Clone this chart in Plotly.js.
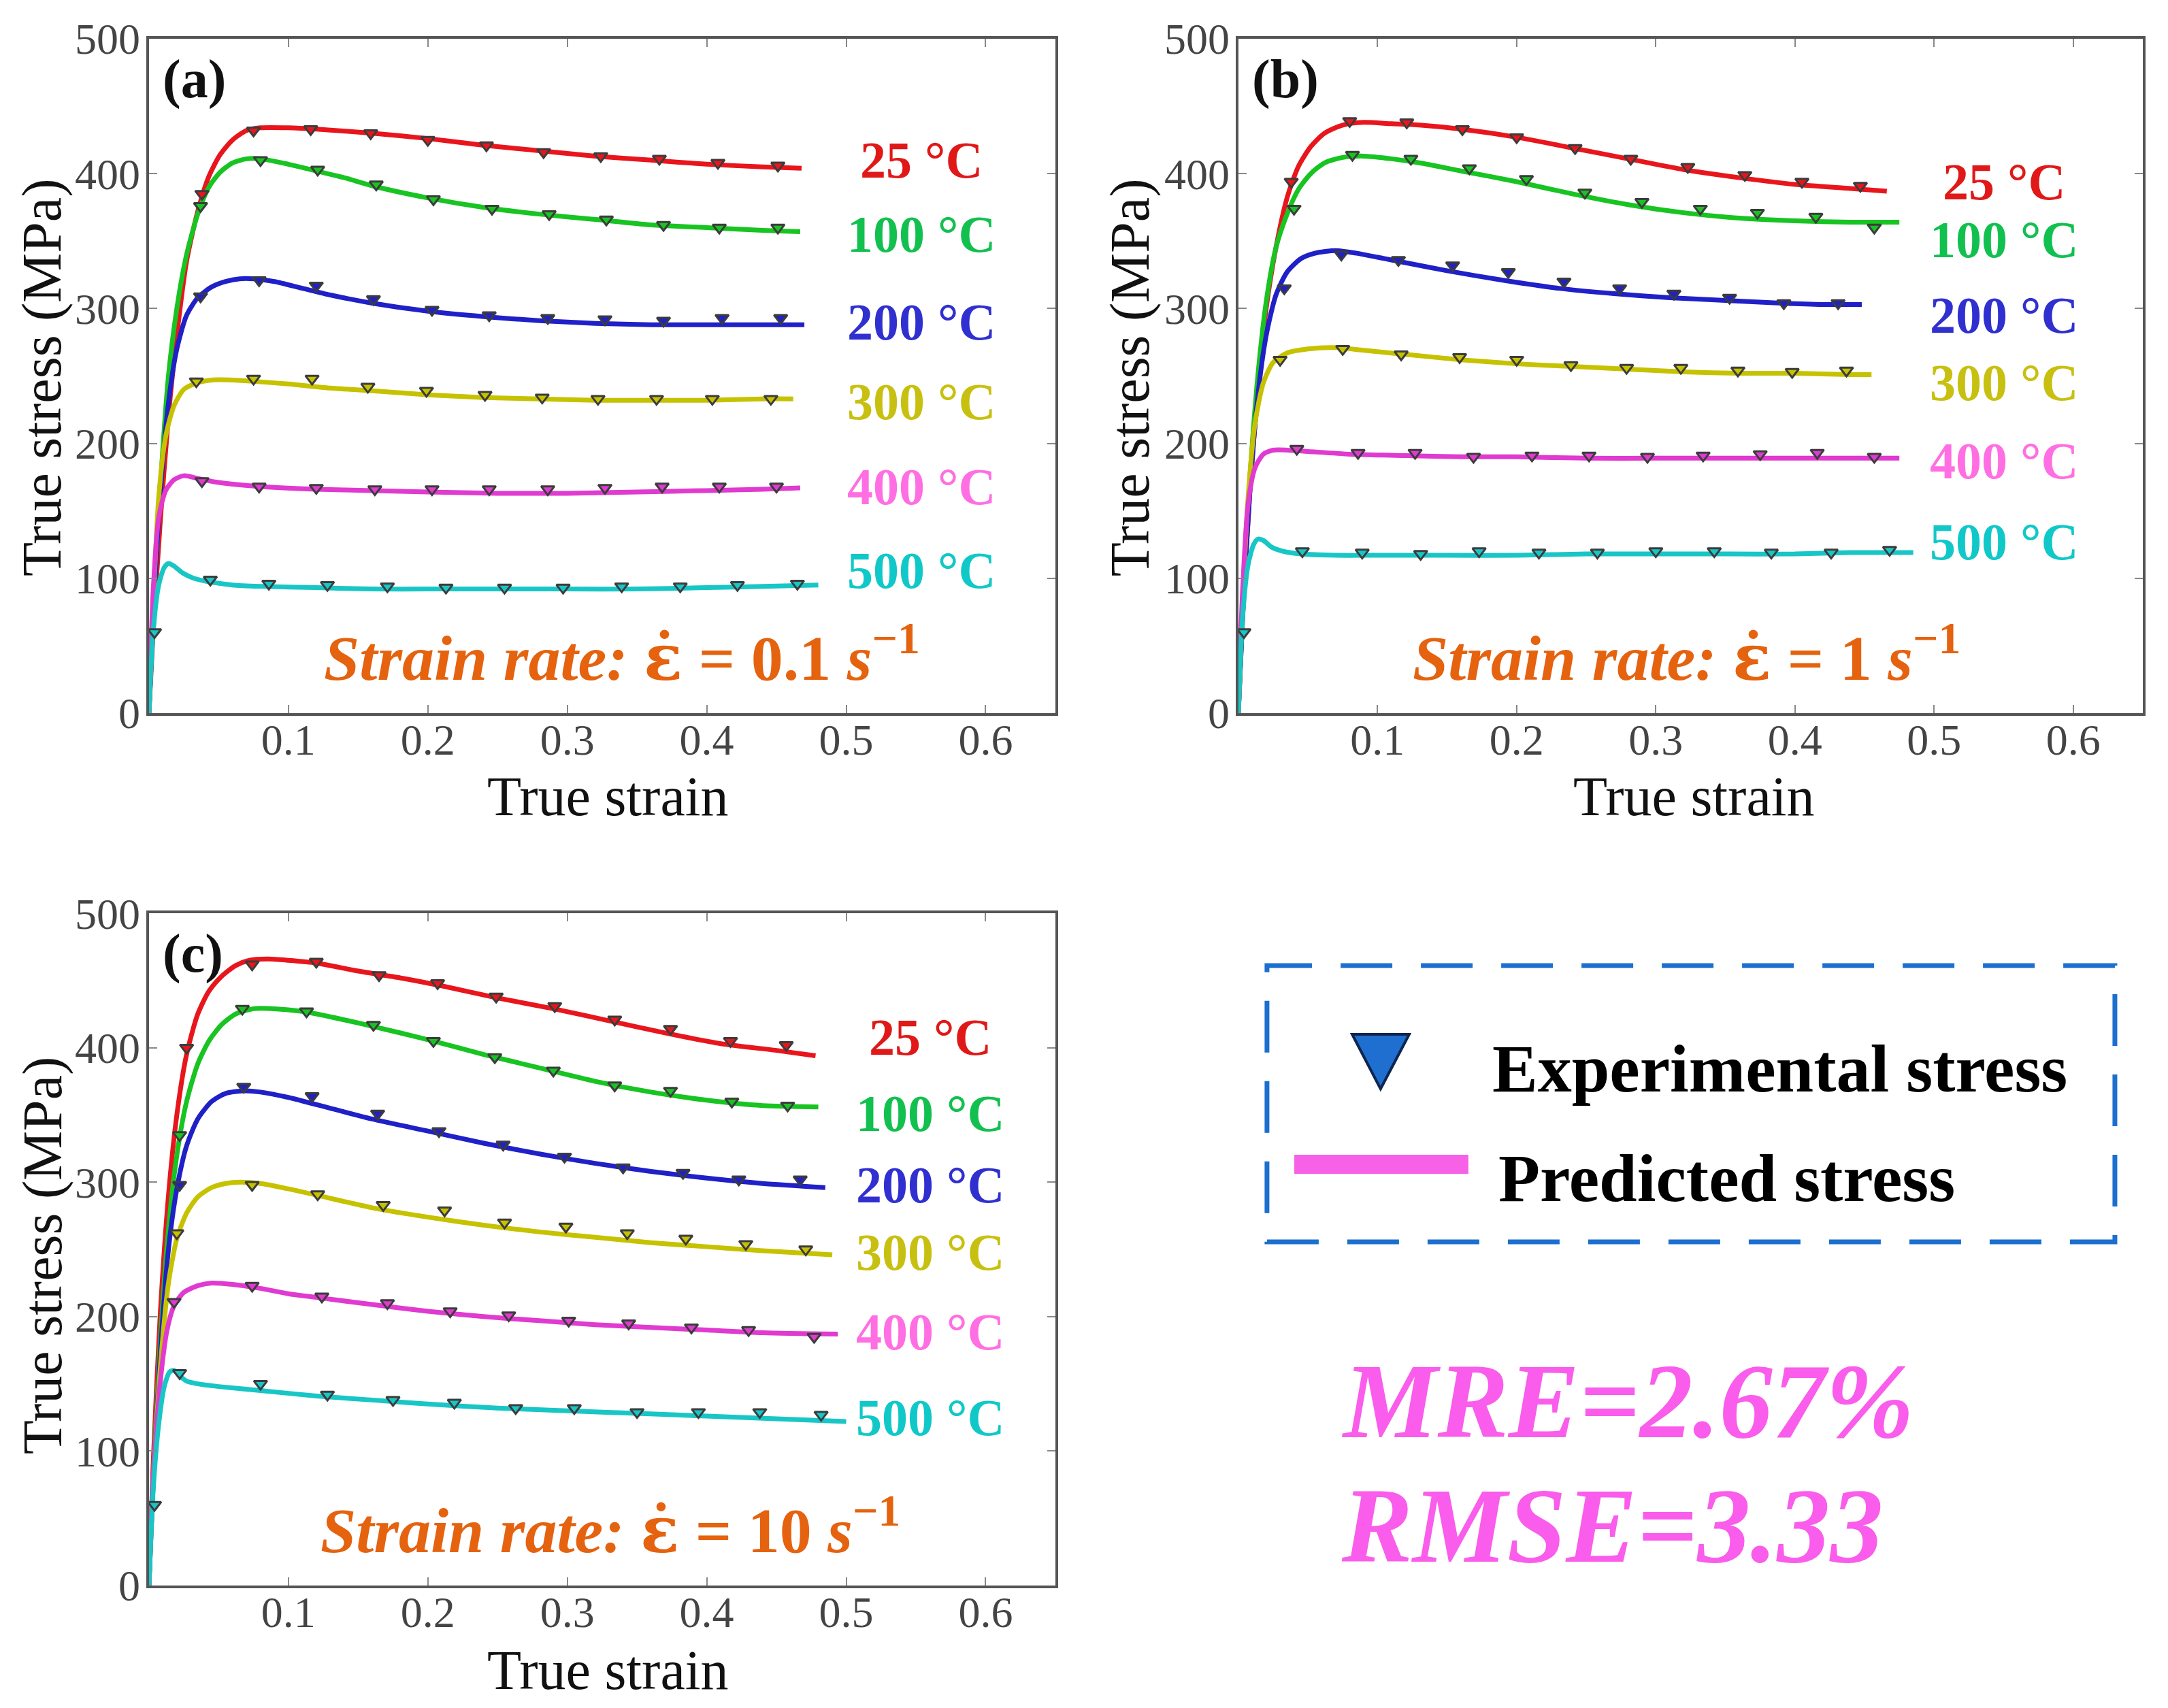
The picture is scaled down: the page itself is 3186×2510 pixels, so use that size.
<!DOCTYPE html>
<html>
<head>
<meta charset="utf-8">
<script src="https://cdn.plot.ly/plotly-3.0.1.min.js"></script>
<style>html,body{margin:0;padding:0;background:#fff;}#chart{width:3186px;height:2510px;}</style>
</head>
<body>
<div id="chart"></div>
<script>
// ---------- DATA ----------
const tempLabels = ['25 °C', '100 °C', '200 °C', '300 °C', '400 °C', '500 °C'];
const rateLabels = ['0.1', '1', '10'];
const panelLabels = ['(a)', '(b)', '(c)'];
const xTickVals = [0.1, 0.2, 0.3, 0.4, 0.5, 0.6];
const xTickText = ['0.1', '0.2', '0.3', '0.4', '0.5', '0.6'];
const yTickVals = [0, 100, 200, 300, 400, 500];
const yTickText = ['0', '100', '200', '300', '400', '500'];
const statTexts = ['MRE=2.67%', 'RMSE=3.33'];
const legendTexts = ['Experimental stress', 'Predicted stress'];

// Panel (a): strain rate 0.1 s^-1 — predicted curves
const aPredX25 = [0, 0.003, 0.008, 0.014, 0.02, 0.027, 0.035, 0.043, 0.051, 0.06, 0.07, 0.08, 0.1, 0.12, 0.16, 0.2, 0.24, 0.28, 0.32, 0.36, 0.4, 0.44, 0.468];
const aPredY25 = [0, 60, 140, 220, 280, 335, 372, 398, 414, 425, 432, 434, 434, 433, 430, 426, 421, 417, 413, 410, 407, 405, 404];
const aPredX100 = [0, 0.003, 0.008, 0.014, 0.02, 0.027, 0.035, 0.043, 0.051, 0.06, 0.07, 0.08, 0.1, 0.12, 0.14, 0.16, 0.2, 0.24, 0.28, 0.32, 0.36, 0.4, 0.44, 0.467];
const aPredY100 = [0, 70, 165, 250, 300, 340, 370, 390, 401, 408, 411, 411, 407, 402, 397, 391, 382, 375, 370, 366, 362, 360, 358, 357];
const aPredX200 = [0, 0.003, 0.008, 0.014, 0.02, 0.027, 0.035, 0.045, 0.055, 0.065, 0.075, 0.09, 0.11, 0.13, 0.16, 0.2, 0.24, 0.28, 0.32, 0.36, 0.4, 0.44, 0.47];
const aPredY200 = [0, 70, 160, 230, 270, 295, 308, 316, 320, 322, 322, 320, 315, 310, 304, 298, 294, 291, 289, 288, 288, 288, 288];
const aPredX300 = [0, 0.003, 0.007, 0.012, 0.018, 0.025, 0.035, 0.045, 0.06, 0.075, 0.1, 0.13, 0.16, 0.2, 0.24, 0.28, 0.32, 0.36, 0.4, 0.44, 0.462];
const aPredY300 = [0, 80, 160, 205, 228, 240, 245, 247, 247, 246, 244, 241, 239, 236, 234, 233, 232, 232, 232, 233, 233];
const aPredX400 = [0, 0.003, 0.007, 0.012, 0.018, 0.025, 0.035, 0.05, 0.08, 0.12, 0.16, 0.2, 0.25, 0.3, 0.35, 0.4, 0.44, 0.467];
const aPredY400 = [0, 90, 145, 165, 173, 176, 174, 171, 168, 166, 165, 164, 163, 163, 164, 165, 166, 167];
const aPredX500 = [0, 0.003, 0.007, 0.011, 0.014, 0.018, 0.024, 0.032, 0.045, 0.06, 0.08, 0.12, 0.16, 0.2, 0.25, 0.3, 0.35, 0.4, 0.44, 0.48];
const aPredY500 = [0, 60, 95, 108, 111, 109, 104, 100, 97, 95, 94, 93, 92, 92, 92, 92, 92, 93, 94, 95];
// Panel (a) — experimental points
const aExpX25 = [0.038, 0.075, 0.116, 0.159, 0.2, 0.242, 0.283, 0.324, 0.366, 0.408, 0.451];
const aExpY25 = [385, 432, 433, 430, 425, 421, 416, 413, 411, 408, 406];
const aExpX100 = [0.037, 0.08, 0.121, 0.163, 0.204, 0.246, 0.287, 0.328, 0.369, 0.409, 0.451];
const aExpY100 = [376, 410, 403, 392, 381, 374, 370, 366, 362, 360, 360];
const aExpX200 = [0.037, 0.079, 0.12, 0.161, 0.203, 0.244, 0.286, 0.327, 0.369, 0.411, 0.453];
const aExpY200 = [309, 321, 317, 307, 299, 295, 293, 292, 291, 293, 293];
const aExpX300 = [0.034, 0.075, 0.117, 0.157, 0.199, 0.241, 0.282, 0.322, 0.364, 0.404, 0.446];
const aExpY300 = [246, 248, 248, 242, 239, 236, 234, 233, 233, 233, 233];
const aExpX400 = [0.038, 0.079, 0.12, 0.162, 0.203, 0.244, 0.286, 0.327, 0.368, 0.409, 0.45];
const aExpY400 = [172, 168, 167, 166, 166, 166, 166, 167, 168, 168, 168];
const aExpX500 = [0.004, 0.044, 0.086, 0.128, 0.171, 0.213, 0.255, 0.297, 0.339, 0.381, 0.422, 0.465];
const aExpY500 = [60, 99, 96, 95, 94, 93, 93, 93, 94, 94, 95, 96];

// Panel (b): strain rate 1 s^-1 — predicted curves
const bPredX25 = [0, 0.003, 0.008, 0.014, 0.02, 0.027, 0.035, 0.043, 0.052, 0.062, 0.075, 0.09, 0.11, 0.13, 0.16, 0.2, 0.24, 0.28, 0.32, 0.36, 0.4, 0.44, 0.466];
const bPredY25 = [0, 70, 160, 240, 300, 345, 382, 405, 420, 430, 436, 438, 437, 436, 433, 427, 419, 411, 403, 397, 392, 389, 387];
const bPredX100 = [0, 0.003, 0.008, 0.014, 0.02, 0.027, 0.035, 0.043, 0.052, 0.062, 0.075, 0.09, 0.11, 0.13, 0.16, 0.2, 0.24, 0.28, 0.32, 0.36, 0.4, 0.44, 0.475];
const bPredY100 = [0, 75, 170, 250, 305, 345, 370, 388, 400, 408, 412, 413, 411, 408, 402, 394, 385, 377, 371, 367, 365, 364, 364];
const bPredX200 = [0, 0.003, 0.008, 0.014, 0.02, 0.027, 0.035, 0.045, 0.055, 0.07, 0.085, 0.1, 0.12, 0.15, 0.19, 0.23, 0.27, 0.31, 0.35, 0.39, 0.42, 0.448];
const bPredY200 = [0, 70, 160, 235, 280, 310, 327, 337, 341, 343, 341, 338, 334, 328, 321, 315, 311, 308, 306, 304, 303, 303];
const bPredX300 = [0, 0.003, 0.007, 0.012, 0.018, 0.025, 0.035, 0.05, 0.07, 0.09, 0.12, 0.16, 0.2, 0.24, 0.28, 0.32, 0.36, 0.4, 0.44, 0.455];
const bPredY300 = [0, 80, 160, 215, 245, 260, 267, 270, 271, 269, 266, 262, 259, 257, 255, 253, 252, 252, 251, 251];
const bPredX400 = [0, 0.003, 0.007, 0.012, 0.018, 0.025, 0.035, 0.05, 0.08, 0.12, 0.16, 0.2, 0.25, 0.3, 0.35, 0.4, 0.44, 0.475];
const bPredY400 = [0, 90, 155, 182, 192, 195, 195, 194, 192, 191, 190, 190, 189, 189, 189, 189, 189, 189];
const bPredX500 = [0, 0.003, 0.007, 0.011, 0.014, 0.018, 0.024, 0.032, 0.045, 0.07, 0.1, 0.15, 0.2, 0.25, 0.3, 0.35, 0.4, 0.44, 0.485];
const bPredY500 = [0, 70, 110, 125, 129, 128, 123, 120, 118, 117, 117, 117, 117, 118, 118, 118, 118, 119, 119];
// Panel (b) — experimental points
const bExpX25 = [0.038, 0.08, 0.121, 0.161, 0.2, 0.242, 0.282, 0.323, 0.364, 0.405, 0.447];
const bExpY25 = [394, 439, 438, 433, 427, 419, 411, 405, 399, 394, 391];
const bExpX100 = [0.04, 0.082, 0.124, 0.166, 0.207, 0.249, 0.29, 0.332, 0.373, 0.415, 0.457];
const bExpY100 = [374, 414, 411, 404, 396, 386, 379, 374, 371, 368, 360];
const bExpX200 = [0.033, 0.074, 0.115, 0.154, 0.194, 0.234, 0.274, 0.313, 0.353, 0.392, 0.431];
const bExpY200 = [315, 340, 336, 332, 327, 320, 315, 311, 308, 304, 304];
const bExpX300 = [0.03, 0.075, 0.117, 0.159, 0.2, 0.239, 0.279, 0.318, 0.359, 0.398, 0.437];
const bExpY300 = [262, 270, 266, 264, 262, 258, 256, 256, 254, 253, 254];
const bExpX400 = [0.042, 0.086, 0.127, 0.169, 0.211, 0.252, 0.294, 0.334, 0.375, 0.416, 0.457];
const bExpY400 = [196, 193, 193, 190, 191, 191, 190, 191, 192, 193, 190];
const bExpX500 = [0.004, 0.046, 0.089, 0.131, 0.173, 0.216, 0.258, 0.3, 0.342, 0.383, 0.426, 0.468];
const bExpY500 = [60, 120, 119, 118, 120, 119, 119, 120, 120, 119, 119, 121];

// Panel (c): strain rate 10 s^-1 — predicted curves
const cPredX25 = [0, 0.003, 0.008, 0.014, 0.02, 0.027, 0.035, 0.043, 0.052, 0.062, 0.072, 0.085, 0.1, 0.12, 0.15, 0.18, 0.21, 0.25, 0.29, 0.33, 0.37, 0.41, 0.45, 0.478];
const cPredY25 = [0, 90, 200, 290, 350, 395, 425, 442, 453, 461, 465, 466, 465, 463, 457, 452, 446, 437, 429, 420, 411, 403, 398, 394];
const cPredX100 = [0, 0.003, 0.008, 0.014, 0.02, 0.027, 0.035, 0.043, 0.052, 0.062, 0.075, 0.09, 0.11, 0.13, 0.16, 0.2, 0.24, 0.28, 0.32, 0.36, 0.4, 0.44, 0.48];
const cPredY100 = [0, 80, 180, 265, 320, 360, 388, 405, 417, 425, 429, 429, 427, 423, 416, 406, 395, 385, 375, 367, 361, 357, 356];
const cPredX200 = [0, 0.003, 0.008, 0.014, 0.02, 0.027, 0.035, 0.045, 0.055, 0.068, 0.08, 0.1, 0.13, 0.16, 0.2, 0.24, 0.28, 0.32, 0.36, 0.4, 0.44, 0.485];
const cPredY200 = [0, 75, 170, 250, 295, 327, 347, 360, 366, 368, 367, 363, 355, 347, 338, 329, 321, 314, 308, 303, 299, 296];
const cPredX300 = [0, 0.003, 0.008, 0.014, 0.02, 0.027, 0.035, 0.045, 0.055, 0.065, 0.08, 0.1, 0.13, 0.16, 0.2, 0.24, 0.28, 0.32, 0.36, 0.4, 0.44, 0.49];
const cPredY300 = [0, 75, 160, 225, 258, 277, 289, 296, 299, 300, 299, 295, 288, 281, 274, 268, 263, 259, 255, 252, 249, 246];
const cPredX400 = [0, 0.003, 0.008, 0.013, 0.018, 0.025, 0.035, 0.045, 0.06, 0.08, 0.1, 0.13, 0.16, 0.2, 0.24, 0.28, 0.32, 0.36, 0.4, 0.44, 0.494];
const cPredY400 = [0, 80, 150, 190, 208, 218, 223, 225, 224, 221, 217, 213, 209, 204, 200, 197, 194, 192, 190, 188, 187];
const cPredX500 = [0, 0.003, 0.007, 0.011, 0.015, 0.018, 0.022, 0.027, 0.035, 0.05, 0.08, 0.12, 0.16, 0.2, 0.25, 0.3, 0.35, 0.4, 0.45, 0.5];
const cPredY500 = [0, 70, 120, 148, 159, 160, 156, 152, 150, 148, 145, 141, 138, 135, 132, 130, 128, 126, 124, 122];
// Panel (c) — experimental points
const cExpX25 = [0.027, 0.074, 0.12, 0.165, 0.207, 0.249, 0.291, 0.334, 0.374, 0.417, 0.457];
const cExpY25 = [400, 462, 464, 454, 448, 438, 431, 421, 414, 405, 402];
const cExpX100 = [0.022, 0.067, 0.113, 0.161, 0.204, 0.248, 0.29, 0.334, 0.374, 0.418, 0.458];
const cExpY100 = [335, 429, 427, 417, 405, 393, 383, 372, 368, 360, 357];
const cExpX200 = [0.022, 0.068, 0.117, 0.164, 0.208, 0.254, 0.298, 0.34, 0.383, 0.423, 0.467];
const cExpY200 = [298, 371, 364, 351, 338, 328, 319, 311, 307, 302, 302];
const cExpX300 = [0.02, 0.074, 0.121, 0.168, 0.212, 0.255, 0.299, 0.343, 0.385, 0.428, 0.471];
const cExpY300 = [262, 298, 291, 283, 279, 270, 267, 262, 258, 254, 250];
const cExpX400 = [0.018, 0.074, 0.124, 0.171, 0.216, 0.258, 0.301, 0.344, 0.389, 0.43, 0.477];
const cExpY400 = [211, 223, 215, 210, 204, 201, 197, 195, 192, 190, 185];
const cExpX500 = [0.004, 0.022, 0.08, 0.128, 0.175, 0.219, 0.263, 0.305, 0.35, 0.394, 0.438, 0.482];
const cExpY500 = [60, 158, 150, 142, 138, 136, 132, 132, 129, 129, 129, 127];

// ---------- STYLES ----------
const lineColors = ['#e8161c', '#18c421', '#2020c8', '#c6c200', '#e03ad0', '#18c6c6'];
const labelColors = ['#e01818', '#12c050', '#3030d0', '#c8c010', '#ff6ee2', '#10c8c8'];
const serif = 'Liberation Serif, Times New Roman, serif';

const panels = [
  { xa: 'x', ya: 'y', pred: [[aPredX25, aPredY25], [aPredX100, aPredY100], [aPredX200, aPredY200], [aPredX300, aPredY300], [aPredX400, aPredY400], [aPredX500, aPredY500]],
    exp: [[aExpX25, aExpY25], [aExpX100, aExpY100], [aExpX200, aExpY200], [aExpX300, aExpY300], [aExpX400, aExpY400], [aExpX500, aExpY500]],
    labelX: 0.554, labelY: [410, 355, 290, 231, 168, 106], rateX: 0.339 },
  { xa: 'x2', ya: 'y2', pred: [[bPredX25, bPredY25], [bPredX100, bPredY100], [bPredX200, bPredY200], [bPredX300, bPredY300], [bPredX400, bPredY400], [bPredX500, bPredY500]],
    exp: [[bExpX25, bExpY25], [bExpX100, bExpY100], [bExpX200, bExpY200], [bExpX300, bExpY300], [bExpX400, bExpY400], [bExpX500, bExpY500]],
    labelX: 0.55, labelY: [394, 351, 295, 245, 187, 127], rateX: 0.322 },
  { xa: 'x3', ya: 'y3', pred: [[cPredX25, cPredY25], [cPredX100, cPredY100], [cPredX200, cPredY200], [cPredX300, cPredY300], [cPredX400, cPredY400], [cPredX500, cPredY500]],
    exp: [[cExpX25, cExpY25], [cExpX100, cExpY100], [cExpX200, cExpY200], [cExpX300, cExpY300], [cExpX400, cExpY400], [cExpX500, cExpY500]],
    labelX: 0.56, labelY: [408, 351, 298, 248, 189, 125], rateX: 0.331 }
];

const traces = [];
const annotations = [];
panels.forEach((p, pi) => {
  p.pred.forEach((c, i) => {
    traces.push({ x: c[0], y: c[1], xaxis: p.xa, yaxis: p.ya, type: 'scatter', mode: 'lines',
      line: { color: lineColors[i], width: 7, shape: 'spline', smoothing: 0.7 }, hoverinfo: 'skip', showlegend: false });
  });
  p.exp.forEach((c, i) => {
    traces.push({ x: c[0], y: c[1], xaxis: p.xa, yaxis: p.ya, type: 'scatter', mode: 'markers',
      marker: { symbol: 'triangle-down', size: 17, color: lineColors[i], line: { color: '#3c3c3c', width: 3 } },
      hoverinfo: 'skip', showlegend: false });
  });
  tempLabels.forEach((t, i) => {
    annotations.push({ xref: p.xa, yref: p.ya, x: p.labelX, y: p.labelY[i], text: '<b>' + t + '</b>',
      showarrow: false, xanchor: 'center', yanchor: 'middle', font: { family: serif, size: 76, color: labelColors[i] } });
  });
  annotations.push({ xref: p.xa, yref: p.ya, x: p.rateX, y: 44,
    text: '<b><i>Strain rate:</i> <span style="font-family:DejaVu Serif">ε̇</span> = ' + rateLabels[pi] + ' <i>s</i><sup>−1</sup></b>',
    showarrow: false, xanchor: 'center', yanchor: 'middle', font: { family: serif, size: 94, color: '#e5620f' } });
  annotations.push({ xref: p.xa, yref: p.ya, x: 0.009, y: 470, text: '<b>' + panelLabels[pi] + '</b>',
    showarrow: false, xanchor: 'left', yanchor: 'middle', font: { family: serif, size: 80, color: '#111' } });
});

// axis titles
const yTitlePos = [[0.0195, 0.7789], [0.5214, 0.7789], [0.0195, 0.2649]];
const xTitlePos = [[0.2803, 0.5335], [0.7815, 0.5335], [0.2803, 0.0222]];
yTitlePos.forEach(p => annotations.push({ xref: 'paper', yref: 'paper', x: p[0], y: p[1], text: 'True stress (MPa)', textangle: -90,
  showarrow: false, xanchor: 'center', yanchor: 'middle', font: { family: serif, size: 82, color: '#111' } }));
xTitlePos.forEach(p => annotations.push({ xref: 'paper', yref: 'paper', x: p[0], y: p[1], text: 'True strain',
  showarrow: false, xanchor: 'center', yanchor: 'middle', font: { family: serif, size: 82, color: '#111' } }));

// legend texts
annotations.push({ xref: 'paper', yref: 'paper', x: 0.6877, y: 0.3745, text: '<b>' + legendTexts[0] + '</b>', showarrow: false,
  xanchor: 'left', yanchor: 'middle', font: { family: serif, size: 100, color: '#000' } });
annotations.push({ xref: 'paper', yref: 'paper', x: 0.6905, y: 0.3100, text: '<b>' + legendTexts[1] + '</b>', showarrow: false,
  xanchor: 'left', yanchor: 'middle', font: { family: serif, size: 100, color: '#000' } });
// statistics
annotations.push({ xref: 'paper', yref: 'paper', x: 0.618, y: 0.1795, text: '<b><i>' + statTexts[0] + '</i></b>', showarrow: false,
  xanchor: 'left', yanchor: 'middle', font: { family: serif, size: 156, color: '#fa5ceb' } });
annotations.push({ xref: 'paper', yref: 'paper', x: 0.618, y: 0.1066, text: '<b><i>' + statTexts[1] + '</i></b>', showarrow: false,
  xanchor: 'left', yanchor: 'middle', font: { family: serif, size: 156, color: '#fa5ceb' } });

const shapes = [
  { type: 'rect', xref: 'paper', yref: 'paper', x0: 0.5844, x1: 0.9755, y0: 0.2729, y1: 0.4347,
    line: { color: '#1c6fcf', width: 7, dash: '76px,42px' }, fillcolor: 'rgba(0,0,0,0)' },
  { type: 'line', xref: 'paper', yref: 'paper', x0: 0.597, x1: 0.6773, y0: 0.3183, y1: 0.3183,
    line: { color: '#f761e8', width: 28 } },
  { type: 'path', xref: 'paper', yref: 'paper', path: 'M 0.6237 0.3944 L 0.6500 0.3944 L 0.6368 0.3625 Z',
    fillcolor: '#1f6fd0', line: { color: '#0d2550', width: 4 } }
];

function xAxis(domain, anchor) {
  return { domain: domain, anchor: anchor, range: [0, 0.65], tickmode: 'array', tickvals: xTickVals, ticktext: xTickText,
    showgrid: false, zeroline: false, showline: true, linecolor: '#555', linewidth: 4, mirror: 'allticks',
    ticks: 'inside', ticklen: 12, tickwidth: 2, tickcolor: '#888', ticklabelstandoff: -20,
    tickfont: { family: serif, size: 64, color: '#444' } };
}
function yAxis(domain, anchor) {
  return { domain: domain, anchor: anchor, range: [0, 500], tickmode: 'array', tickvals: yTickVals, ticktext: yTickText,
    showgrid: false, zeroline: false, showline: true, linecolor: '#555', linewidth: 4, mirror: 'allticks',
    ticks: 'inside', ticklen: 12, tickwidth: 2, tickcolor: '#888', ticklabelstandoff: -4,
    tickfont: { family: serif, size: 64, color: '#444' } };
}

const layout = {
  width: 3186, height: 2510, margin: { l: 0, r: 0, t: 0, b: 0 },
  paper_bgcolor: '#fff', plot_bgcolor: '#fff', showlegend: false,
  xaxis: xAxis([0.0687, 0.4868], 'y'), yaxis: yAxis([0.5825, 0.9773], 'x'),
  xaxis2: xAxis([0.5712, 0.9884], 'y2'), yaxis2: yAxis([0.5825, 0.9773], 'x2'),
  xaxis3: xAxis([0.0687, 0.4868], 'y3'), yaxis3: yAxis([0.0717, 0.4653], 'x3'),
  annotations: annotations, shapes: shapes
};

Plotly.newPlot('chart', traces, layout, { displayModeBar: false, staticPlot: true });
</script>
</body>
</html>
